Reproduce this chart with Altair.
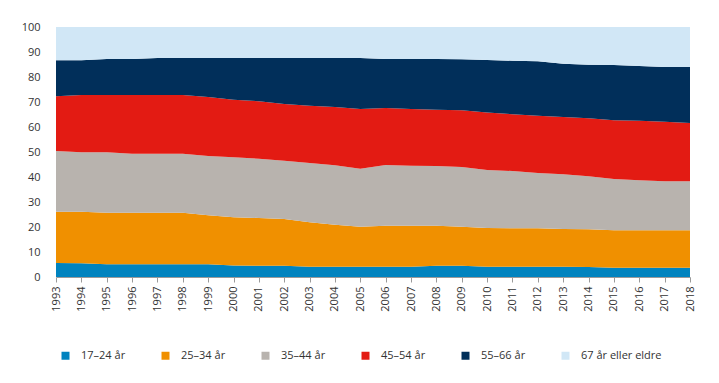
import altair as alt
import pandas as pd

years = list(range(1993, 2019))
categories = ["17–24 år", "25–34 år", "35–44 år", "45–54 år", "55–66 år", "67 år eller eldre"]
colors = ["#0083BF", "#F09000", "#B8B3AE", "#E31B13", "#012F5A", "#D1E7F6"]

v_17_24 = [5.6, 5.5, 5.1, 5.1, 5.1, 5.1, 5.1, 4.6, 4.5, 4.5, 4.1, 4.1, 4.1,
           4.1, 4.1, 4.5, 4.5, 4.1, 4.1, 4.1, 4.1, 4.0, 3.7, 3.7, 3.7, 3.7]
v_25_34 = [20.5, 20.6, 20.6, 20.6, 20.6, 20.6, 19.6, 19.3, 19.1, 18.7, 17.8, 16.8, 16.0,
           16.4, 16.4, 16.0, 15.6, 15.5, 15.4, 15.4, 15.1, 15.1, 15.0, 15.0, 15.0, 15.0]
v_35_44 = [24.3, 23.8, 24.2, 23.6, 23.6, 23.6, 23.7, 24.0, 23.7, 23.3, 23.7, 23.8, 23.2,
           24.3, 24.0, 23.9, 23.9, 23.2, 22.9, 22.1, 21.9, 21.2, 20.5, 20.0, 19.6, 19.6]
v_45_54 = [21.9, 22.9, 22.9, 23.5, 23.5, 23.5, 23.6, 23.0, 23.0, 22.7, 22.9, 23.3, 23.9,
           22.8, 22.7, 22.5, 22.7, 23.0, 22.7, 22.9, 22.9, 23.2, 23.5, 23.8, 23.8, 23.3]
v_55_66 = [14.4, 13.9, 14.4, 14.4, 14.8, 14.8, 15.6, 16.7, 17.3, 18.4, 19.1, 19.6, 20.4,
           19.6, 20.0, 20.3, 20.4, 21.0, 21.4, 21.8, 21.3, 21.4, 22.1, 21.9, 21.9, 22.4]
v_67 = [13.3, 13.3, 12.8, 12.8, 12.4, 12.4, 12.4, 12.4, 12.4, 12.4, 12.4, 12.4, 12.4,
        12.8, 12.8, 12.8, 12.9, 13.2, 13.5, 13.7, 14.7, 15.1, 15.2, 15.6, 16.0, 16.0]

series = [v_17_24, v_25_34, v_35_44, v_45_54, v_55_66, v_67]
rows = []
for i, (cat, vals) in enumerate(zip(categories, series)):
    for y, v in zip(years, vals):
        rows.append({"year": y, "group": cat, "value": v, "idx": i})
df = pd.DataFrame(rows)

FONT = "Open Sans"

chart = alt.Chart(df).mark_area(interpolate="linear").encode(
    x=alt.X("year:Q", scale=alt.Scale(domain=[1993, 2018], nice=False, zero=False),
            axis=alt.Axis(values=years, format="d", labelAngle=270, title=None,
                          grid=False, domainColor="#9a9a9a", tickColor="#9a9a9a",
                          tickSize=5, labelPadding=4, labelFontSize=11,
                          labelColor="#333333", labelFont=FONT, labelOverlap=False)),
    y=alt.Y("value:Q", stack="zero", scale=alt.Scale(domain=[0, 100], nice=False),
            axis=alt.Axis(values=list(range(0, 101, 10)), title=None, grid=False,
                          ticks=False, domain=False, labelPadding=16, labelFontSize=11,
                          labelColor="#333333", labelFont=FONT)),
    color=alt.Color("group:N", sort=categories,
                    scale=alt.Scale(domain=categories, range=colors),
                    legend=alt.Legend(title=None, orient="none", legendX=4, legendY=323,
                                      direction="horizontal", columns=6, gridAlign="each",
                                      symbolType="square", symbolSize=64, symbolStrokeWidth=0,
                                      labelOffset=10, columnPadding=34, labelFontSize=11,
                                      labelColor="#333333", labelFont=FONT, padding=0)),
    order=alt.Order("idx:Q"),
).properties(
    width=634, height=250,
    autosize=alt.AutoSizeParams(type="none"),
    padding={"left": 48, "top": 19, "right": 21, "bottom": 98},
).configure_view(stroke=None)

chart.save("out.html", embed_options={"renderer": "svg", "actions": False})
